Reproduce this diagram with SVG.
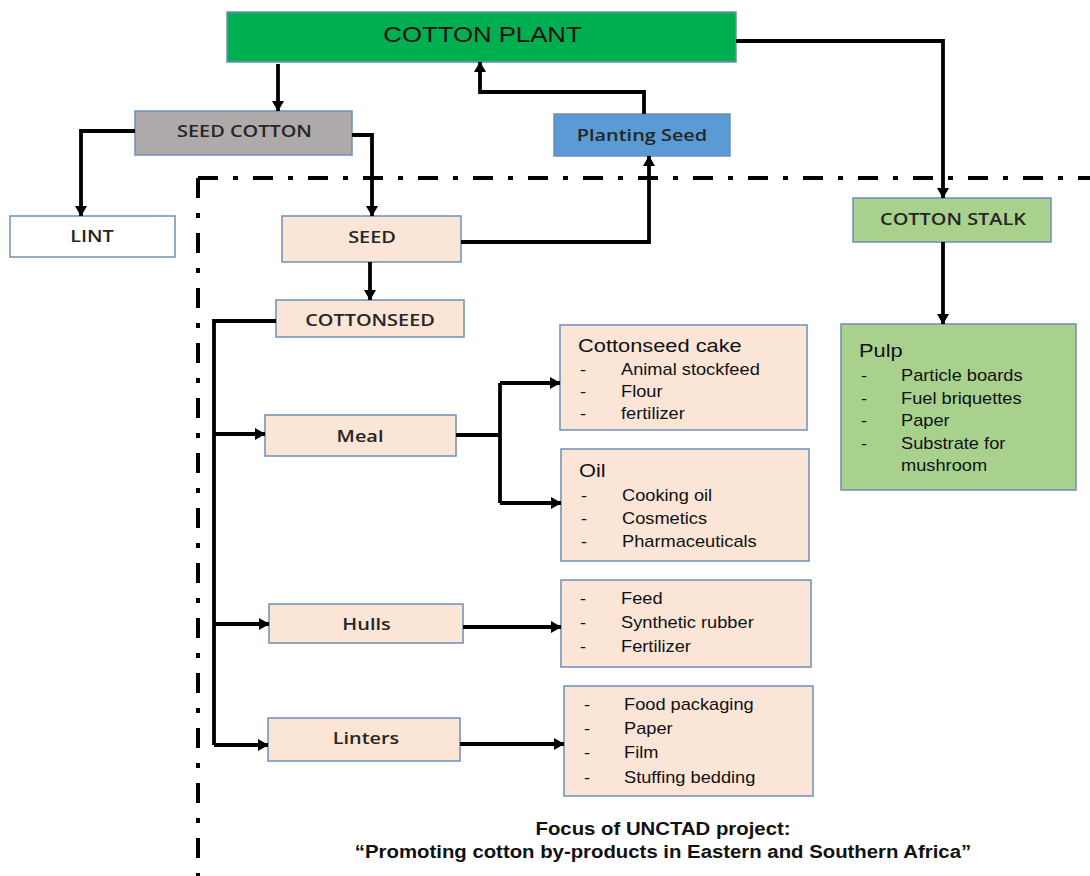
<svg xmlns="http://www.w3.org/2000/svg" width="1090" height="876" viewBox="0 0 1090 876">
<defs>
<marker id="ah" viewBox="0 0 10 10" refX="9.5" refY="5" markerWidth="2.9" markerHeight="3.3" preserveAspectRatio="none" orient="auto" markerUnits="strokeWidth">
<path d="M0,0 L10,5 L0,10 z" fill="#000"/>
</marker>
<style>
.box{stroke:#6f8fb8;stroke-width:1.5}
.lbl{font-family:"Open Sans",Lato,sans-serif;font-size:17px;font-weight:600;fill:#262626;text-anchor:middle}
.lst{font-family:"Liberation Sans",Arial,sans-serif;font-size:16px;fill:#111}
.ttl{font-family:"Liberation Sans",Arial,sans-serif;font-size:18.5px;fill:#111}
.c{fill:none;stroke:#000;stroke-width:3.8}
.ca{fill:none;stroke:#000;stroke-width:3.8;marker-end:url(#ah)}
.foot{font-family:"Liberation Sans",Arial,sans-serif;font-size:18.5px;font-weight:bold;fill:#111;text-anchor:middle}
.brd{fill:none;stroke:#000;stroke-width:4;stroke-dasharray:20 15 5 15}
</style>
</defs>
<rect width="1090" height="876" fill="#fff"/>
<g id="focus-border">
<path class="brd" d="M198,178 H1090"/>
<path class="brd" d="M198,178 V876"/>
</g>
<g id="cotton-plant"><rect class="box" x="227" y="12" width="509" height="50" fill="#00b050"/><text transform="translate(482.5 42) scale(1.17 1)" font-family="Liberation Sans,Arial,sans-serif" font-size="22" text-anchor="middle" fill="#111">COTTON PLANT</text></g>
<g id="seed-cotton"><rect class="box" x="135" y="111" width="217" height="44" fill="#aeaaaa"/><text class="lbl" transform="translate(244.5 137) scale(1.17 1)">SEED COTTON</text></g>
<g id="lint"><rect class="box" x="10" y="216" width="165" height="41" fill="#fff"/><text class="lbl" transform="translate(92 242) scale(1.17 1)">LINT</text></g>
<g id="planting-seed"><rect class="box" x="554" y="114" width="176" height="42" fill="#5b9bd5"/><text class="lbl" transform="translate(642 141) scale(1.17 1)">Planting Seed</text></g>
<g id="seed"><rect class="box" x="282" y="216" width="179" height="46" fill="#fbe5d6"/><text class="lbl" transform="translate(372 243) scale(1.17 1)">SEED</text></g>
<g id="cotton-stalk"><rect class="box" x="853" y="198" width="198" height="44" fill="#a9d18e"/><text class="lbl" transform="translate(953 225) scale(1.17 1)">COTTON STALK</text></g>
<g id="cottonseed"><rect class="box" x="276" y="300" width="188" height="37" fill="#fbe5d6"/><text class="lbl" transform="translate(370 326) scale(1.17 1)">COTTONSEED</text></g>
<g id="meal"><rect class="box" x="265" y="415" width="191" height="41" fill="#fbe5d6"/><text class="lbl" transform="translate(360 442) scale(1.17 1)">Meal</text></g>
<g id="hulls"><rect class="box" x="269" y="604" width="194" height="39" fill="#fbe5d6"/><text class="lbl" transform="translate(366.5 630) scale(1.17 1)">Hulls</text></g>
<g id="linters"><rect class="box" x="268" y="718" width="192" height="43" fill="#fbe5d6"/><text class="lbl" transform="translate(366 744) scale(1.17 1)">Linters</text></g>
<g id="cake"><rect class="box" x="560" y="325" width="247" height="105" fill="#fbe5d6"/>
<text class="ttl" transform="translate(578 352) scale(1.18 1)">Cottonseed cake</text>
<text class="lst" transform="translate(580 375) scale(1.14 1)">-</text><text class="lst" transform="translate(621 375) scale(1.14 1)">Animal stockfeed</text>
<text class="lst" transform="translate(580 397) scale(1.14 1)">-</text><text class="lst" transform="translate(621 397) scale(1.14 1)">Flour</text>
<text class="lst" transform="translate(580 419) scale(1.14 1)">-</text><text class="lst" transform="translate(621 419) scale(1.14 1)">fertilizer</text></g>
<g id="oil"><rect class="box" x="561" y="449" width="248" height="112" fill="#fbe5d6"/>
<text class="ttl" transform="translate(579 477) scale(1.18 1)">Oil</text>
<text class="lst" transform="translate(581 501) scale(1.14 1)">-</text><text class="lst" transform="translate(622 501) scale(1.14 1)">Cooking oil</text>
<text class="lst" transform="translate(581 524) scale(1.14 1)">-</text><text class="lst" transform="translate(622 524) scale(1.14 1)">Cosmetics</text>
<text class="lst" transform="translate(581 547) scale(1.14 1)">-</text><text class="lst" transform="translate(622 547) scale(1.14 1)">Pharmaceuticals</text></g>
<g id="pulp"><rect class="box" x="841" y="324" width="235" height="166" fill="#a9d18e"/>
<text class="ttl" transform="translate(859 357) scale(1.18 1)">Pulp</text>
<text class="lst" transform="translate(861 381) scale(1.14 1)">-</text><text class="lst" transform="translate(901 381) scale(1.14 1)">Particle boards</text>
<text class="lst" transform="translate(861 404) scale(1.14 1)">-</text><text class="lst" transform="translate(901 404) scale(1.14 1)">Fuel briquettes</text>
<text class="lst" transform="translate(861 426) scale(1.14 1)">-</text><text class="lst" transform="translate(901 426) scale(1.14 1)">Paper</text>
<text class="lst" transform="translate(861 449) scale(1.14 1)">-</text><text class="lst" transform="translate(901 449) scale(1.14 1)">Substrate for</text>
<text class="lst" transform="translate(901 471) scale(1.14 1)">mushroom</text></g>
<g id="hulls-uses"><rect class="box" x="561" y="580" width="250" height="87" fill="#fbe5d6"/>
<text class="lst" transform="translate(580 604) scale(1.14 1)">-</text><text class="lst" transform="translate(621 604) scale(1.14 1)">Feed</text>
<text class="lst" transform="translate(580 628) scale(1.14 1)">-</text><text class="lst" transform="translate(621 628) scale(1.14 1)">Synthetic rubber</text>
<text class="lst" transform="translate(580 652) scale(1.14 1)">-</text><text class="lst" transform="translate(621 652) scale(1.14 1)">Fertilizer</text></g>
<g id="linters-uses"><rect class="box" x="564" y="686" width="249" height="110" fill="#fbe5d6"/>
<text class="lst" transform="translate(584 710) scale(1.14 1)">-</text><text class="lst" transform="translate(624 710) scale(1.14 1)">Food packaging</text>
<text class="lst" transform="translate(584 734) scale(1.14 1)">-</text><text class="lst" transform="translate(624 734) scale(1.14 1)">Paper</text>
<text class="lst" transform="translate(584 758) scale(1.14 1)">-</text><text class="lst" transform="translate(624 758) scale(1.14 1)">Film</text>
<text class="lst" transform="translate(584 783) scale(1.14 1)">-</text><text class="lst" transform="translate(624 783) scale(1.14 1)">Stuffing bedding</text></g>
<g id="footer">
<text class="foot" transform="translate(663 835) scale(1.1 1)">Focus of UNCTAD project:</text>
<text class="foot" transform="translate(663 858) scale(1.1 1)">“Promoting cotton by-products in Eastern and Southern Africa”</text>
</g>
<g id="connectors">
<path class="ca" d="M278,64 V111"/>
<path class="ca" d="M644,114 V92 H480 V62"/>
<path class="ca" d="M736,41 H943 V198"/>
<path class="ca" d="M135,131 H81 V216"/>
<path class="ca" d="M352,135 H372 V216"/>
<path class="ca" d="M461,242 H649 V156"/>
<path class="ca" d="M370,262 V300"/>
<path class="c" d="M276,321 H214 V745"/>
<path class="ca" d="M214,434 H265"/>
<path class="ca" d="M214,624 H269"/>
<path class="ca" d="M214,745 H268"/>
<path class="c" d="M456,435 H500"/>
<path class="ca" d="M500,383 H560"/>
<path class="c" d="M500,383 V503"/>
<path class="ca" d="M500,503 H561"/>
<path class="ca" d="M463,627 H561"/>
<path class="ca" d="M460,744 H564"/>
<path class="ca" d="M943,242 V324"/>
</g>
</svg>
